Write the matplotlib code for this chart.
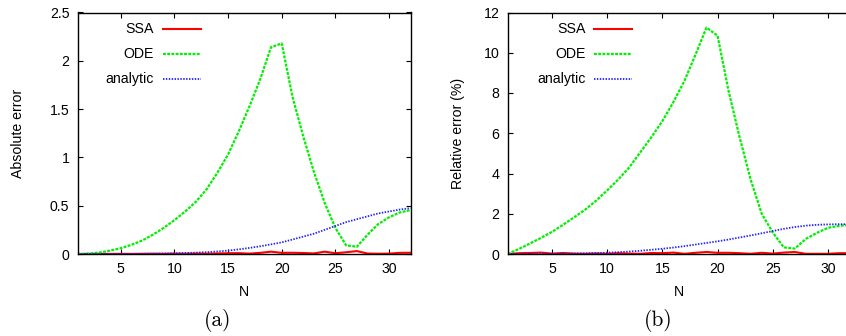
import matplotlib
matplotlib.use("Agg")
import matplotlib.pyplot as plt
import matplotlib.transforms as mtrans

N = list(range(1, 33))

abs_ssa = [0, 0.001, 0.002, 0.001, 0.002, 0.001, 0.002, 0.003, 0.002, 0.004,
           0.003, 0.005, 0.003, 0.006, 0.008, 0.009, 0.004, 0.012, 0.024, 0.012,
           0.013, 0.010, 0.006, 0.024, 0.008, 0.018, 0.030, 0.005, 0.003, 0.004,
           0.012, 0.013]
abs_ode = [0, 0.004, 0.015, 0.035, 0.06, 0.095, 0.14, 0.20, 0.27, 0.35,
           0.44, 0.54, 0.67, 0.84, 1.03, 1.27, 1.53, 1.81, 2.14, 2.18,
           1.63, 1.22, 0.85, 0.53, 0.27, 0.09, 0.075, 0.20, 0.31, 0.38,
           0.43, 0.455]
abs_analytic = [0, 0, 0, 0.0005, 0.001, 0.001, 0.002, 0.003, 0.005, 0.007,
                0.010, 0.014, 0.019, 0.026, 0.035, 0.048, 0.063, 0.080, 0.100, 0.120,
                0.150, 0.180, 0.210, 0.250, 0.290, 0.330, 0.360, 0.390, 0.420, 0.440,
                0.460, 0.475]

rel_ssa = [0, 0.04, 0.05, 0.07, 0.02, 0.05, 0.02, 0.01, 0.03, 0.01,
           0.04, 0.02, 0.01, 0.05, 0.04, 0.07, 0.01, 0.06, 0.10, 0.06,
           0.06, 0.04, 0.01, 0.06, 0.02, 0.07, 0.10, 0.01, 0.01, 0.01,
           0.04, 0.04]
rel_ode = [0, 0.25, 0.52, 0.80, 1.10, 1.45, 1.82, 2.20, 2.65, 3.16,
           3.70, 4.30, 5.05, 5.80, 6.60, 7.55, 8.60, 9.90, 11.25, 10.85,
           8.10, 5.80, 3.70, 2.00, 1.07, 0.33, 0.27, 0.75, 1.05, 1.30,
           1.40, 1.45]
rel_analytic = [0, 0.001, 0.003, 0.006, 0.010, 0.015, 0.022, 0.032, 0.045, 0.065,
                0.09, 0.12, 0.16, 0.21, 0.26, 0.32, 0.39, 0.47, 0.55, 0.63,
                0.72, 0.82, 0.92, 1.03, 1.14, 1.25, 1.34, 1.41, 1.45, 1.47,
                1.48, 1.48]

labels = ["SSA", "ODE", "analytic"]
x_ticks = [5, 10, 15, 20, 25, 30]
yticks_a = [0, 0.5, 1, 1.5, 2, 2.5]
yticks_b = [0, 2, 4, 6, 8, 10, 12]

plt.rcParams['font.family'] = ['Liberation Sans', 'DejaVu Sans']
FS = 10.2

W, H = 846, 336
fig = plt.figure(figsize=(W / 100, H / 100), dpi=100)

Y0, Y1 = 254.0, 12.5
bottom = (H - Y0) / H
top = (H - Y1) / H
ax_a = fig.add_axes([77.8 / W, bottom, (410.5 - 77.8) / W, top - bottom])
ax_b = fig.add_axes([507.8 / W, bottom, (850.0 - 507.8) / W, top - bottom])

styles = [
    dict(color='#ff0000', lw=1.5, ls='-'),
    dict(color='#00f000', lw=1.6, ls=(0, (1.3, 0.6))),
    dict(color='#2222ff', lw=1.3, ls=(0, (0.8, 0.8))),
]


def px_to_ax(ax, xpix=None, ypix=None):
    """Convert figure pixel coords (origin top-left) to axes fraction."""
    bb = ax.get_position()
    out = []
    if xpix is not None:
        out.append((xpix / W - bb.x0) / bb.width)
    if ypix is not None:
        out.append(((H - ypix) / H - bb.y0) / bb.height)
    return out[0] if len(out) == 1 else out


def setup(ax, series, yticks, ylim, ylabel, caption, key_x, ylab_x, right_ticks):
    for s, st in zip(series, styles):
        ax.plot(N, s, **st)
    ax.set_xlim(1, 32)
    ax.set_ylim(*ylim)
    ax.set_xticks(x_ticks)
    ax.set_yticks(yticks)
    ax.set_yticklabels([f"{v:g}" for v in yticks])
    ax.tick_params(direction='in', length=3.5, width=0.8, top=True, right=right_ticks,
                   labelsize=FS, pad=6, colors='black')
    for sp in ax.spines.values():
        sp.set_linewidth(1.0)
    ax.set_xlabel("N", fontsize=FS)
    ax.set_ylabel(ylabel, fontsize=FS)
    ax.xaxis.set_label_coords(0.5, px_to_ax(ax, ypix=284.5))
    ax.yaxis.set_label_coords(px_to_ax(ax, xpix=ylab_x), 0.5)
    # gnuplot-style key: right-aligned text with sample line to its right
    xt = px_to_ax(ax, xpix=key_x[0])
    x0 = px_to_ax(ax, xpix=key_x[1])
    x1 = px_to_ax(ax, xpix=key_x[2])
    for i, (lab, st) in enumerate(zip(labels, styles)):
        yax = px_to_ax(ax, ypix=29.3 + i * 25)
        ax.text(xt, yax, lab, transform=ax.transAxes, ha='right', va='center',
                fontsize=FS)
        ax.plot([x0, x1], [yax, yax], transform=ax.transAxes, **st)
    tr = mtrans.blended_transform_factory(ax.transAxes, fig.transFigure)
    ax.text(px_to_ax(ax, xpix=caption[1]), (H - 320) / H, caption[0], transform=tr,
            ha='center', va='center', fontsize=15.5, family='cmr10')


setup(ax_a, [abs_ssa, abs_ode, abs_analytic], yticks_a, (0, 2.5), "Absolute error",
      ("(a)", 218), (154, 163, 201), 25, True)
setup(ax_b, [rel_ssa, rel_ode, rel_analytic], yticks_b, (0, 12), "Relative error (%)",
      ("(b)", 658), (585.3, 594, 632.3), 465, False)

fig.savefig("out.png", dpi=100)
